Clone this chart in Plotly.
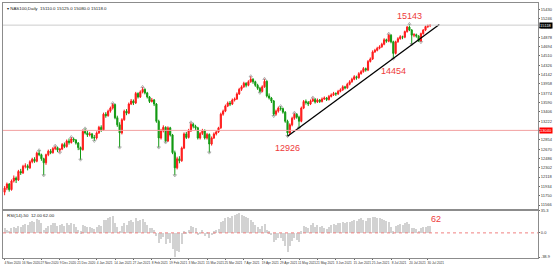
import plotly.graph_objects as go

# ---------------- data ----------------
opens = [11820, 11900, 11980, 11870, 12040, 12100, 12060, 12230, 12200, 12330,
         12340, 12300, 12420, 12470, 12430, 12590, 12560, 12480, 12400, 12560,
         12630, 12600, 12680, 12700, 12650, 12670, 12760, 12720, 12830, 12800,
         12870, 12850, 12790, 12700, 12660, 13020, 12990, 12950, 12970, 12900,
         12890, 12990, 13100, 13050, 13360, 13330, 13420, 13480, 13550, 13290,
         13150, 12990, 13250, 13420, 13380, 13560, 13620, 13580, 13770, 13700,
         13800, 13850, 13780, 13700, 13610, 13640, 13560, 13220, 12890, 13030,
         13100, 12830, 13090, 12950, 12600, 12300, 12480, 12440, 12690, 12970,
         12900, 13030, 13160, 13120, 13090, 12890, 12980, 13030, 12890, 12960,
         12770, 12890, 12970, 13010, 13090, 13360, 13420, 13520, 13580, 13560,
         13640, 13660, 13760, 13850, 13900, 13970, 13930, 14000, 14050, 14000,
         13930, 13870, 13810, 13900, 14010, 13720, 13680, 13620, 13360, 13420,
         13480, 13470, 13400, 13220, 12990, 13150, 13280, 13360, 13300, 13220,
         13480, 13610, 13590, 13560, 13620, 13650, 13600, 13640, 13610, 13660,
         13680, 13650, 13710, 13740, 13770, 13760, 13810, 13840, 13900, 13880,
         13950, 14000, 14050, 14100, 14080, 14160, 14200, 14260, 14230, 14400,
         14450, 14590, 14620, 14660, 14690, 14740, 14830, 14800, 14920, 14790,
         14560, 14790, 14850, 14890, 14880, 14990, 15080, 15020, 14920, 14930,
         14900, 14800, 14950, 15020, 15090, 15110]
highs = [11940, 12010, 12000, 12070, 12150, 12130, 12260, 12280, 12360, 12390,
         12370, 12450, 12500, 12510, 12620, 12650, 12580, 12500, 12580, 12660,
         12670, 12710, 12740, 12720, 12690, 12790, 12800, 12860, 12880, 12910,
         12900, 12870, 12810, 12720, 13060, 13080, 13030, 13010, 12990, 12950,
         13020, 13130, 13140, 13390, 13400, 13450, 13510, 13580, 13570, 13330,
         13200, 13280, 13450, 13460, 13590, 13660, 13650, 13800, 13790, 13830,
         13900, 13870, 13800, 13720, 13680, 13660, 13580, 13250, 13070, 13140,
         13120, 13120, 13110, 12970, 12640, 12520, 12530, 12720, 13000, 13010,
         13070, 13200, 13190, 13150, 13110, 13010, 13070, 13060, 12990, 12980,
         12920, 13000, 13040, 13110, 13390, 13450, 13550, 13610, 13620, 13670,
         13690, 13790, 13880, 13930, 14000, 13990, 14030, 14110, 14070, 14020,
         13960, 13900, 13930, 14060, 14030, 13770, 13700, 13640, 13450, 13510,
         13520, 13490, 13420, 13250, 13180, 13310, 13390, 13380, 13330, 13510,
         13640, 13650, 13620, 13650, 13690, 13680, 13670, 13660, 13690, 13710,
         13700, 13740, 13770, 13800, 13790, 13840, 13870, 13930, 13920, 13980,
         14030, 14080, 14130, 14120, 14190, 14230, 14290, 14280, 14430, 14480,
         14620, 14650, 14690, 14720, 14770, 14860, 14850, 14950, 14940, 14810,
         14810, 14880, 14920, 14910, 15010, 15100, 15143, 15040, 14960, 14950,
         14920, 14970, 15040, 15110, 15130, 15125]
lows = [11760, 11860, 11830, 11850, 12010, 12000, 12040, 12160, 12180, 12290,
        12250, 12280, 12390, 12400, 12410, 12530, 12440, 12150, 12360, 12530,
        12570, 12580, 12650, 12610, 12600, 12650, 12690, 12700, 12760, 12780,
        12810, 12760, 12650, 12460, 12640, 12960, 12910, 12920, 12870, 12830,
        12860, 12970, 13010, 13030, 13290, 13310, 13390, 13450, 13260, 13110,
        12700, 12960, 13230, 13340, 13360, 13540, 13540, 13560, 13670, 13680,
        13770, 13750, 13670, 13580, 13590, 13520, 13190, 12700, 12860, 13000,
        12800, 12810, 12920, 12570, 12150, 12270, 12390, 12420, 12670, 12870,
        12880, 13010, 13080, 13050, 12860, 12860, 12950, 12860, 12860, 12600,
        12740, 12870, 12940, 12990, 13070, 13330, 13400, 13500, 13520, 13540,
        13610, 13640, 13740, 13820, 13880, 13890, 13910, 13980, 13960, 13900,
        13840, 13780, 13790, 13880, 13690, 13650, 13580, 13320, 13330, 13390,
        13430, 13370, 13190, 12926, 12960, 13120, 13250, 13270, 13090, 13200,
        13460, 13550, 13520, 13540, 13600, 13570, 13580, 13580, 13590, 13640,
        13620, 13630, 13690, 13720, 13720, 13740, 13790, 13820, 13850, 13860,
        13930, 13980, 14030, 14040, 14060, 14140, 14180, 14200, 14210, 14380,
        14430, 14570, 14600, 14640, 14670, 14720, 14770, 14780, 14760, 14454,
        14540, 14770, 14830, 14840, 14860, 14970, 15000, 14740, 14880, 14870,
        14790, 14780, 14930, 15000, 15060, 15080]
closes = [11900, 11980, 11870, 12040, 12100, 12060, 12230, 12200, 12330, 12340,
          12300, 12420, 12470, 12430, 12590, 12560, 12480, 12400, 12560, 12630,
          12600, 12680, 12700, 12650, 12670, 12760, 12720, 12830, 12800, 12870,
          12850, 12790, 12700, 12660, 13020, 12990, 12950, 12970, 12900, 12890,
          12990, 13100, 13050, 13360, 13330, 13420, 13480, 13550, 13290, 13150,
          12990, 13250, 13420, 13380, 13560, 13620, 13580, 13770, 13700, 13800,
          13850, 13780, 13700, 13610, 13640, 13560, 13220, 12890, 13030, 13100,
          12830, 13090, 12950, 12600, 12300, 12480, 12440, 12690, 12970, 12900,
          13030, 13160, 13120, 13090, 12890, 12980, 13030, 12890, 12960, 12770,
          12890, 12970, 13010, 13090, 13360, 13420, 13520, 13580, 13560, 13640,
          13660, 13760, 13850, 13900, 13970, 13930, 14000, 14050, 14000, 13930,
          13870, 13810, 13900, 14010, 13720, 13680, 13620, 13360, 13420, 13480,
          13470, 13400, 13220, 12990, 13150, 13280, 13360, 13300, 13220, 13480,
          13610, 13590, 13560, 13620, 13650, 13600, 13640, 13610, 13660, 13680,
          13650, 13710, 13740, 13770, 13760, 13810, 13840, 13900, 13880, 13950,
          14000, 14050, 14100, 14080, 14160, 14200, 14260, 14230, 14400, 14450,
          14590, 14620, 14660, 14690, 14740, 14830, 14800, 14920, 14790, 14560,
          14790, 14850, 14890, 14880, 14990, 15080, 15020, 14920, 14930, 14900,
          14800, 14950, 15020, 15090, 15110, 15118]
osc = [8, 6, 4, 9, 10, 9, 12, 11, 14, 15,
       13, 18, 20, 19, 23, 22, 16, 5, 8, 12,
       13, 16, 17, 12, 13, 15, 12, 16, 14, 17,
       15, 11, 6, 3, 14, 12, 10, 11, 8, 7,
       10, 14, 12, 22, 21, 24, 26, 28, 16, 10,
       4, 12, 17, 14, 20, 21, 19, 24, 20, 22,
       23, 18, 13, 8, 9, 5, -5, -16, -9, -6,
       -18, -9, -15, -26, -38, -28, -30, -17, 3, 1,
       6, 12, 10, 8, -3, 2, 5, -4, 1, -8,
       -2, 3, 5, 7, 18, 20, 24, 26, 25, 28,
       29, 31, 32, 30, 28, 26, 24, 22, 18, 14,
       10, 7, 12, 15, 5, 3, -2, -14, -10, -7,
       -8, -12, -20, -30, -20, -12, -8, -11, -14, 3,
       12, 11, 9, 13, 16, 11, 13, 10, 12, 8,
       7, 11, 13, 15, 14, 17, 17, 18, 16, 19,
       19, 20, 22, 20, 23, 24, 22, 20, 24, 25,
       27, 26, 25, 24, 23, 22, 20, 19, 10, 3,
       12, 14, 15, 14, 17, 18, 15, 8, 9, 7,
       4, 8, 10, 11, 12, 12]

tick_pos = [0, 8, 16, 24, 32, 40, 48, 56, 64, 72, 80, 88, 96, 104, 112, 120,
            128, 136, 144, 152, 160, 168, 176, 184]
tick_text = ["4 Nov 2020", "16 Nov 2020", "27 Nov 2020", "9 Dec 2020", "21 Dec 2020",
             "4 Jan 2021", "14 Jan 2021", "27 Jan 2021", "8 Feb 2021", "19 Feb 2021",
             "3 Mar 2021", "15 Mar 2021", "25 Mar 2021", "7 Apr 2021", "19 Apr 2021",
             "29 Apr 2021", "11 May 2021", "21 May 2021", "3 Jun 2021", "15 Jun 2021",
             "25 Jun 2021", "8 Jul 2021", "20 Jul 2021", "30 Jul 2021"]
price_ticks = [15430, 15246, 15062, 14878, 14694, 14510, 14326, 14142, 13958, 13774,
               13590, 13406, 13222, 13038, 12854, 12670, 12486, 12302, 12118, 11934,
               11750, 11566]
osc_ticks = [35.34, 0.0, -38.90]

level_line = 13040.0
current_price = 15118.0
trend_x = [123, 189]
trend_y = [12926, 15130]
swing_labels = [(176, 15143, "15143", "high"), (169, 14454, "14454", "low"),
                (123, 12926, "12926", "low")]
osc_last = 62

# ---------------- figure ----------------
n = len(closes)
xs = list(range(n))
red = "#ff1a1a"
green = "#129a12"
lab_red = "#ee3a3a"
font = "Liberation Sans, Arial, sans-serif"
ytick_font = dict(size=4, color="#333", family=font)
xtick_font = dict(size=3.2, color="#333", family=font)

fig = go.Figure()
fig.add_trace(go.Candlestick(
    x=xs, open=opens, high=highs, low=lows, close=closes,
    increasing=dict(line=dict(color=red, width=1), fillcolor=red),
    decreasing=dict(line=dict(color=green, width=1), fillcolor=green),
    whiskerwidth=0, xaxis="x", yaxis="y", showlegend=False, hoverinfo="skip"))

# fractal markers
up_x, up_y, dn_x, dn_y = [], [], [], []
for i in range(2, n - 2):
    if highs[i] > max(highs[i - 2], highs[i - 1], highs[i + 1], highs[i + 2]):
        up_x.append(i); up_y.append(highs[i])
    if lows[i] < min(lows[i - 2], lows[i - 1], lows[i + 1], lows[i + 2]):
        dn_x.append(i); dn_y.append(lows[i])
fig.add_trace(go.Scatter(x=up_x, y=up_y, mode="markers", xaxis="x", yaxis="y",
                         marker=dict(symbol="triangle-up-open", size=3, color="#8a8a8a",
                                     line=dict(width=0.6)),
                         showlegend=False, hoverinfo="skip"))
fig.add_trace(go.Scatter(x=dn_x, y=dn_y, mode="markers", xaxis="x", yaxis="y",
                         marker=dict(symbol="triangle-down-open", size=3, color="#8a8a8a",
                                     line=dict(width=0.6)),
                         showlegend=False, hoverinfo="skip"))

# trend line
fig.add_trace(go.Scatter(x=trend_x, y=trend_y, mode="lines", xaxis="x", yaxis="y",
                         line=dict(color="black", width=1.3), showlegend=False,
                         hoverinfo="skip"))

# oscillator histogram
fig.add_trace(go.Bar(x=xs, y=osc, xaxis="x2", yaxis="y2", width=0.45,
                     marker=dict(color="#d2d2d2", line=dict(width=0)),
                     showlegend=False, hoverinfo="skip"))

shapes = [
    dict(type="line", xref="paper", x0=0, x1=1, yref="y", y0=level_line, y1=level_line,
         line=dict(color="#f2a0a0", width=1)),
    dict(type="line", xref="paper", x0=0, x1=1, yref="y", y0=current_price, y1=current_price,
         line=dict(color="#cccccc", width=1)),
    dict(type="line", xref="paper", x0=0, x1=1, yref="y2", y0=0, y1=0,
         line=dict(color="#f08080", width=1, dash="dot")),
]

annotations = [
    dict(text="▾ NAS100,Daily  15110.0 15125.0 15080.0 15118.0", xref="paper", yref="paper",
         x=0.004, y=0.998, xanchor="left", yanchor="top", showarrow=False,
         font=dict(size=4.4, color="#222", family=font)),
    dict(text="RSI(14)-50  12.00 62.00", xref="paper", yref="y2",
         x=0.004, y=36, xanchor="left", yanchor="top", showarrow=False,
         font=dict(size=4.4, color="#222", family=font)),
    dict(text="%d" % level_line, xref="paper", yref="y", x=1, y=level_line,
         xanchor="left", yanchor="middle", xshift=1, showarrow=False, bgcolor="#ff0000",
         font=dict(size=4, color="white", family=font), borderpad=0),
    dict(text="%d" % current_price, xref="paper", yref="y", x=1, y=current_price,
         xanchor="left", yanchor="middle", xshift=1, showarrow=False, bgcolor="#000000",
         font=dict(size=4, color="white", family=font), borderpad=0),
    dict(text=str(osc_last), xref="x2", yref="y2", x=187.5, y=22, showarrow=False,
         font=dict(size=9, color=lab_red, family=font)),
]
for xi, yv, txt, kind in swing_labels:
    annotations.append(dict(
        text=txt, xref="x", yref="y", x=xi, y=yv, showarrow=False,
        yanchor="bottom" if kind == "high" else "top",
        yshift=1 if kind == "high" else -5,
        font=dict(size=9, color=lab_red, family=font)))

axis_common = dict(showgrid=False, zeroline=False, showline=True, mirror=True,
                   linecolor="#8c8c8c", linewidth=1)

fig.update_layout(
    width=554, height=268,
    margin=dict(l=3, r=16, t=1, b=10),
    paper_bgcolor="white", plot_bgcolor="white",
    shapes=shapes, annotations=annotations, bargap=0,
    xaxis=dict(domain=[0, 1], range=[-0.7, 231.9], anchor="y", showticklabels=False,
               ticks="", rangeslider=dict(visible=False), **axis_common),
    yaxis=dict(domain=[0.194, 1], range=[11497, 15555], side="right",
               tickvals=price_ticks, ticktext=["%d" % v for v in price_ticks],
               ticks="outside", ticklen=1, tickcolor="#666",
               tickfont=ytick_font, **axis_common),
    xaxis2=dict(domain=[0, 1], range=[-0.7, 231.9], anchor="y2", matches="x",
                tickvals=tick_pos, ticktext=tick_text, ticks="outside", ticklen=1,
                tickcolor="#666", tickfont=xtick_font, ticklabelshift=8,
                tickangle=0, **axis_common),
    yaxis2=dict(domain=[0, 0.186], range=[-40.5, 36], side="right", anchor="x2",
                tickvals=osc_ticks, ticktext=["%.1f" % v for v in osc_ticks],
                ticks="outside", ticklen=1, tickcolor="#666",
                tickfont=ytick_font, **axis_common),
)

fig.write_html("out.html", config={"displayModeBar": False},
               post_script="document.body.style.margin='0';document.body.style.padding='0';")
